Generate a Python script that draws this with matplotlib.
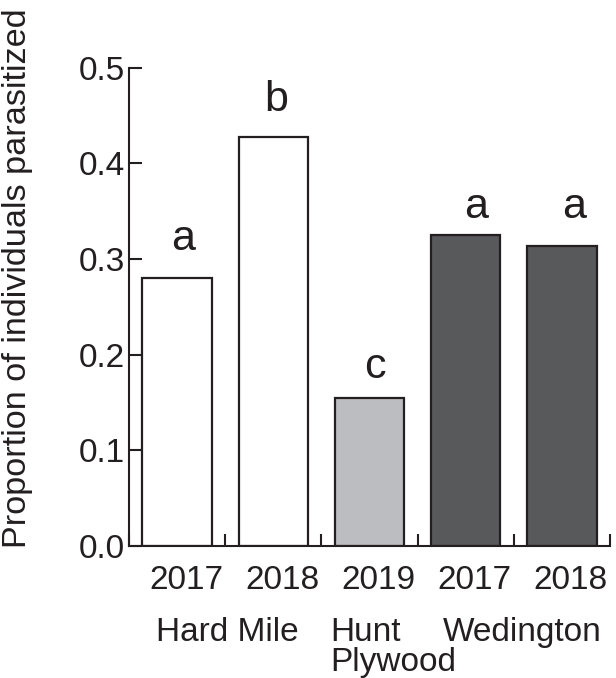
import numpy as np
import matplotlib
matplotlib.use("Agg")
from matplotlib import pyplot as plt
from matplotlib.transforms import ScaledTranslation

plt.rcParams['font.family'] = ['Liberation Sans', 'DejaVu Sans']

# parasitism per site/year
years = ['2017', '2018', '2019', '2017', '2018']
proportion = [0.280, 0.427, 0.155, 0.325, 0.313]
letters = ['a', 'b', 'c', 'a', 'a']
bar_colors = ['#ffffff', '#ffffff', '#bcbdc0', '#58595b', '#58595b']
sites = ['Hard Mile', 'Hunt\nPlywood', 'Wedington']

# hand placement of the letters and site names (points / data units)
letter_dx = [4.0, 2.2, 4.0, 7.2, 8.6]
letter_dy = [20.0, 19.2, 14.2, 12.2, 20.5]
site_x = [0.52, 1.59, 3.59]
site_ha = ['center', 'left', 'center']

ink = '#231f20'

fig = plt.figure(figsize=(6.16, 6.78), dpi=100)
ax = fig.add_axes([0.2094, 0.1947, 0.7809, 0.7057])

x = np.arange(len(proportion))
ax.bar(x, proportion, width=0.72, color=bar_colors, edgecolor=ink, linewidth=1.6)

# significance letters above bars
for xi, h, lab, dx, dy in zip(x, proportion, letters, letter_dx, letter_dy):
    ax.annotate(lab, (xi, h), xytext=(dx, dy), textcoords='offset points',
                ha='center', va='baseline', fontsize=31, color=ink)

ax.set_xlim(-0.5, len(proportion) - 0.5)
ax.set_ylim(0, 0.5)
ax.set_yticks(np.arange(0, 0.51, 0.1))
ax.set_yticklabels(['%.1f' % v for v in np.arange(0, 0.51, 0.1)])

# year labels under bars, small ticks between bars
ax.set_xticks(x)
ax.set_xticklabels(years)
ax.set_xticks(np.arange(-0.5, len(proportion), 1.0), minor=True)
ax.tick_params(axis='x', which='major', length=0, pad=14, labelsize=24, colors=ink)
ax.tick_params(axis='x', which='minor', direction='in', length=8.5, width=1.5, color=ink)
ax.tick_params(axis='y', direction='in', length=9, width=1.5, pad=3, labelsize=24, colors=ink)

# year labels sit a little right of the bar centres
shift = ScaledTranslation(0.09, 0, fig.dpi_scale_trans)
for lbl in ax.get_xticklabels():
    lbl.set_transform(lbl.get_transform() + shift)

for s in ['top', 'right']:
    ax.spines[s].set_visible(False)
for s in ['left', 'bottom']:
    ax.spines[s].set_linewidth(1.5)
    ax.spines[s].set_color(ink)

fig.text(18 / 616, 1 - 278 / 678, 'Proportion of individuals parasitized',
         rotation=90, ha='center', va='center', fontsize=24.7, color=ink)

for sx, name, ha in zip(site_x, sites, site_ha):
    ax.annotate(name, (sx, 0), xycoords=('data', 'axes fraction'),
                xytext=(0, -51), textcoords='offset points',
                ha=ha, va='top', fontsize=24, color=ink, linespacing=0.95)

fig.savefig('out.png', dpi=100)
